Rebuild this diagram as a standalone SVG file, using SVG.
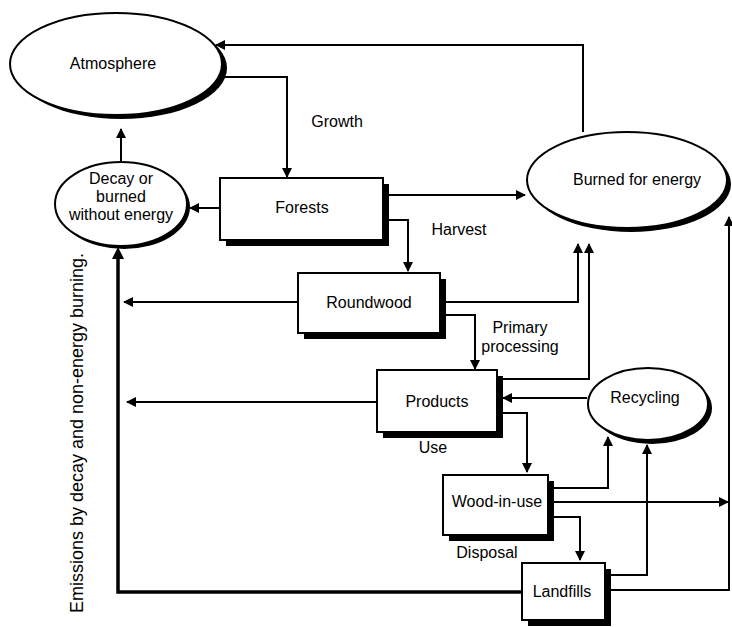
<svg xmlns="http://www.w3.org/2000/svg" width="732" height="627" viewBox="0 0 732 627">
<style>
.t{font-family:"Liberation Sans",Arial,sans-serif;font-size:16px;fill:#000;text-anchor:middle}
.n{fill:#fff;stroke:#000;stroke-width:2}
.s{fill:#000}
.c{fill:none;stroke:#000;stroke-width:2}
.k{fill:none;stroke:#000;stroke-width:3.5}
</style>
<defs>
<marker id="a" viewBox="0 0 10 10" refX="9" refY="5" markerWidth="10" markerHeight="10" markerUnits="userSpaceOnUse" orient="auto">
<path d="M0,0 L10,5 L0,10 z" fill="#000"/>
</marker>
</defs>
<rect width="732" height="627" fill="#fff"/>
<g id="connectors">
<path class="c" d="M583,132 V45 H216" marker-end="url(#a)"/>
<path class="c" d="M222,77 H287 V177" marker-end="url(#a)"/>
<path class="c" d="M121,162 V129" marker-end="url(#a)"/>
<path class="c" d="M220,208 H190" marker-end="url(#a)"/>
<path class="c" d="M383,195 H525" marker-end="url(#a)"/>
<path class="c" d="M383,220 H408 V271" marker-end="url(#a)"/>
<path class="c" d="M298,302 H124" marker-end="url(#a)"/>
<path class="c" d="M440,302 H578 V244" marker-end="url(#a)"/>
<path class="c" d="M440,315 H475 V369" marker-end="url(#a)"/>
<path class="c" d="M497,379 H589 V244" marker-end="url(#a)"/>
<path class="c" d="M377,402 H127" marker-end="url(#a)"/>
<path class="c" d="M587,398 H503" marker-end="url(#a)"/>
<path class="c" d="M497,413 H527 V472" marker-end="url(#a)"/>
<path class="c" d="M548,488 H608 V437" marker-end="url(#a)"/>
<path class="c" d="M548,502 H728" marker-end="url(#a)"/>
<path class="c" d="M548,517 H580 V560" marker-end="url(#a)"/>
<path class="c" d="M605,575 H647 V445" marker-end="url(#a)"/>
<path class="c" d="M605,590 H729 V217" marker-end="url(#a)"/>
<path class="k" d="M522,592 H118 V252"/>
<path d="M112,259 L118,247 L124,259 z" fill="#000"/>
</g>
<g id="atmosphere">
<ellipse class="s" cx="121" cy="68" rx="106" ry="51"/>
<ellipse class="n" cx="116" cy="64" rx="106" ry="51"/>
<text class="t" x="113" y="69">Atmosphere</text>
</g>
<g id="decay">
<ellipse class="s" cx="124" cy="207" rx="66" ry="42"/>
<ellipse class="n" cx="121" cy="204" rx="66" ry="42"/>
<text class="t" x="121" y="184">Decay or</text>
<text class="t" x="121" y="202">burned</text>
<text class="t" x="121" y="220">without energy</text>
</g>
<g id="burned">
<ellipse class="s" cx="631" cy="184" rx="100" ry="48"/>
<ellipse class="n" cx="627" cy="180" rx="100" ry="48"/>
<text class="t" x="637" y="185">Burned for energy</text>
</g>
<g id="forests">
<rect class="s" x="226" y="184" width="163" height="62"/>
<rect class="n" x="220" y="178" width="163" height="62"/>
<text class="t" x="302" y="213">Forests</text>
</g>
<g id="roundwood">
<rect class="s" x="304" y="279" width="142" height="60"/>
<rect class="n" x="298" y="273" width="142" height="60"/>
<text class="t" x="369" y="308">Roundwood</text>
</g>
<g id="products">
<rect class="s" x="383" y="376" width="120" height="62"/>
<rect class="n" x="377" y="370" width="120" height="62"/>
<text class="t" x="437" y="407">Products</text>
</g>
<g id="recycling">
<ellipse class="s" cx="652" cy="408" rx="60" ry="36"/>
<ellipse class="n" cx="648" cy="404" rx="60" ry="36"/>
<text class="t" x="645" y="403">Recycling</text>
</g>
<g id="woodinuse">
<rect class="s" x="449" y="481" width="105" height="60"/>
<rect class="n" x="443" y="475" width="105" height="60"/>
<text class="t" x="497" y="507">Wood-in-use</text>
</g>
<g id="landfills">
<rect class="s" x="528" y="569" width="83" height="57"/>
<rect class="n" x="522" y="563" width="83" height="57"/>
<text class="t" x="562" y="597">Landfills</text>
</g>
<g id="labels">
<text class="t" x="337" y="127">Growth</text>
<text class="t" x="459" y="235">Harvest</text>
<text class="t" x="520" y="333">Primary</text>
<text class="t" x="520" y="352">processing</text>
<text class="t" x="433" y="453">Use</text>
<text class="t" x="487" y="558">Disposal</text>
<text class="t" style="font-size:18px" transform="translate(83,433) rotate(-90)">Emissions by decay and non-energy burning.</text>
</g>
</svg>
